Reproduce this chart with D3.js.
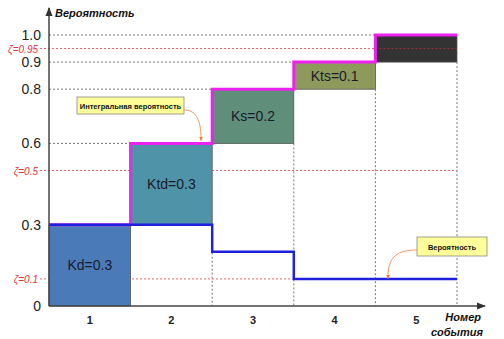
<!DOCTYPE html>
<html><head><meta charset="utf-8">
<script src="https://cdn.jsdelivr.net/npm/d3@7"></script>
<style>body{margin:0;background:#fff}svg{display:block;font-family:"Liberation Sans",Arial,sans-serif}</style>
</head><body><svg id="c" width="504" height="339"></svg>
<script>
const categories = ["1","2","3","4","5"];
const barLabels = ["Kd=0.3","Ktd=0.3","Ks=0.2","Kts=0.1",""];
const probabilities = [0.3,0.3,0.2,0.1,0.1];
const barColors = ["#4a7bb8","#4f93a8","#5f8f7b","#8e9a5b","#333333"];
const yTicks = [0,0.3,0.6,0.8,0.9,1.0];
const yTickLabels = ["0","0.3","0.6","0.8","0.9","1.0"];
const zetaValues = [0.1,0.5,0.95];
const zetaLabels = ["ζ=0.1","ζ=0.5","ζ=0.95"];

const svg = d3.select("#c");
const defs = svg.append("defs");
const x = d3.scaleBand().domain(categories).range([49,457]).padding(0);
const y = d3.scaleLinear().domain([0,1]).range([306,35]);

let cum = [], acc = 0;
probabilities.forEach(p => { cum.push([acc, acc+p]); acc += p; });

// red zeta lines (behind bars)
svg.selectAll("line.zeta").data(zetaValues).join("line").attr("class","zeta")
  .attr("x1", 40).attr("x2", 457).attr("y1", d => y(d)).attr("y2", d => y(d))
  .attr("stroke", "#f0606a").attr("stroke-width", 1).attr("stroke-dasharray", "2,2");

// bars
svg.selectAll("rect.bar").data(categories).join("rect").attr("class","bar")
  .attr("x", d => x(d)).attr("width", x.bandwidth())
  .attr("y", (d,i) => y(cum[i][1])).attr("height", (d,i) => y(cum[i][0]) - y(cum[i][1]))
  .attr("fill", (d,i) => barColors[i]).attr("stroke", "#555").attr("stroke-width", 0.8);

// zeta 0.95 visible through the dark top bar
svg.append("line").attr("x1", x(categories[4])).attr("x2", 457)
  .attr("y1", y(zetaValues[2])).attr("y2", y(zetaValues[2]))
  .attr("stroke", "#a03040").attr("stroke-width", 1).attr("stroke-dasharray", "2,2");

// gray dotted grid lines from axis to bar
cum.forEach((c,i) => {
  if (i === 0) return;
  svg.append("line").attr("x1", 49).attr("x2", x(categories[i]))
    .attr("y1", y(c[1])).attr("y2", y(c[1]))
    .attr("stroke", "#777").attr("stroke-width", 1).attr("stroke-dasharray", "2,2");
});
// vertical dotted lines below bars
cum.forEach((c,i) => {
  if (i === 0) return;
  const xr = x(categories[i]) + x.bandwidth();
  svg.append("line").attr("x1", xr).attr("x2", xr)
    .attr("y1", y(c[0])).attr("y2", y(0))
    .attr("stroke", "#777").attr("stroke-width", 1).attr("stroke-dasharray", "2,2");
});

// bar labels
svg.selectAll("text.bl").data(categories).join("text").attr("class","bl")
  .attr("x", d => x(d) + x.bandwidth()/2)
  .attr("y", (d,i) => y((cum[i][0]+cum[i][1])/2) + 5)
  .attr("text-anchor", "middle").attr("font-size", 14).attr("fill", "#1a1a2a")
  .text((d,i) => barLabels[i]);

// magenta cumulative step line
const magPts = [[49, y(cum[0][1])]];
cum.forEach((c,i) => {
  const x0 = x(categories[i]), x1 = x0 + x.bandwidth();
  magPts.push([x0, y(c[1])]); magPts.push([x1, y(c[1])]);
});
svg.append("path").attr("d", d3.line()(magPts)).attr("fill","none")
  .attr("stroke","#ee22ee").attr("stroke-width",3);

// blue probability step line
const bluePts = [];
probabilities.forEach((p,i) => {
  const x0 = x(categories[i]), x1 = x0 + x.bandwidth();
  bluePts.push([x0, y(p)]); bluePts.push([x1, y(p)]);
});
svg.append("path").attr("d", d3.line()(bluePts)).attr("fill","none")
  .attr("stroke","#1f1fe0").attr("stroke-width",2.5);

// axes
defs.append("marker").attr("id","ar").attr("viewBox","0 0 10 10")
  .attr("refX",9).attr("refY",5).attr("markerWidth",6).attr("markerHeight",6).attr("orient","auto")
  .append("path").attr("d","M0,1L10,5L0,9z").attr("fill","#333");
svg.append("line").attr("x1",49).attr("x2",49).attr("y1",306).attr("y2",8)
  .attr("stroke","#444").attr("stroke-width",1.5).attr("marker-end","url(#ar)");
svg.append("line").attr("x1",49).attr("x2",485).attr("y1",306).attr("y2",306)
  .attr("stroke","#444").attr("stroke-width",1.5).attr("marker-end","url(#ar)");

// y tick labels
svg.selectAll("text.yt").data(yTicks).join("text").attr("class","yt")
  .attr("x", 41).attr("y", d => y(d) + 5).attr("text-anchor","end")
  .attr("font-size", 14).attr("fill","#222").text((d,i) => yTickLabels[i]);
svg.selectAll("text.zt").data(zetaValues).join("text").attr("class","zt")
  .attr("x", 38).attr("y", d => y(d) + 4).attr("text-anchor","end")
  .attr("font-size", 10).attr("font-style","italic").attr("fill","#e8303a").text((d,i) => zetaLabels[i]);

// x labels
svg.selectAll("text.xt").data(categories).join("text").attr("class","xt")
  .attr("x", d => x(d) + x.bandwidth()/2).attr("y", 324).attr("text-anchor","middle")
  .attr("font-size", 11).attr("font-weight","bold").attr("fill","#222").text(d => d);

// axis titles
svg.append("text").attr("x",55).attr("y",17).attr("font-size",11).attr("font-weight","bold")
  .attr("font-style","italic").attr("fill","#111").text("Вероятность");
svg.append("text").attr("x",481).attr("y",321).attr("text-anchor","end").attr("font-size",11).attr("font-weight","bold")
  .attr("font-style","italic").attr("fill","#111").text("Номер");
svg.append("text").attr("x",483).attr("y",336).attr("text-anchor","end").attr("font-size",11).attr("font-weight","bold")
  .attr("font-style","italic").attr("fill","#111").text("события");

// annotation markers
defs.append("marker").attr("id","oa").attr("viewBox","0 0 10 10")
  .attr("refX",5).attr("refY",5).attr("markerWidth",5).attr("markerHeight",5).attr("orient","auto")
  .append("path").attr("d","M0,1L10,5L0,9z").attr("fill","#f08030");

// annotation 1
svg.append("rect").attr("x",77).attr("y",97).attr("width",107).attr("height",17)
  .attr("fill","#ffff99").attr("stroke","#888").attr("stroke-width",0.8);
svg.append("text").attr("x",130.5).attr("y",108.5).attr("text-anchor","middle")
  .attr("font-size",7.5).attr("font-weight","bold").attr("fill","#111").text("Интегральная вероятность");
svg.append("path").attr("d","M184,110 C195,110 201,118 201,139").attr("fill","none")
  .attr("stroke","#f09a60").attr("stroke-width",1).attr("marker-end","url(#oa)");

// annotation 2
svg.append("rect").attr("x",417).attr("y",237).attr("width",70).attr("height",19)
  .attr("fill","#ffff99").attr("stroke","#888").attr("stroke-width",0.8);
svg.append("text").attr("x",452).attr("y",249.5).attr("text-anchor","middle")
  .attr("font-size",7.5).attr("font-weight","bold").attr("fill","#111").text("Вероятность");
svg.append("path").attr("d","M417,250 C398,250 388,256 388,277").attr("fill","none")
  .attr("stroke","#f09a60").attr("stroke-width",1).attr("marker-end","url(#oa)");
</script></body></html>
